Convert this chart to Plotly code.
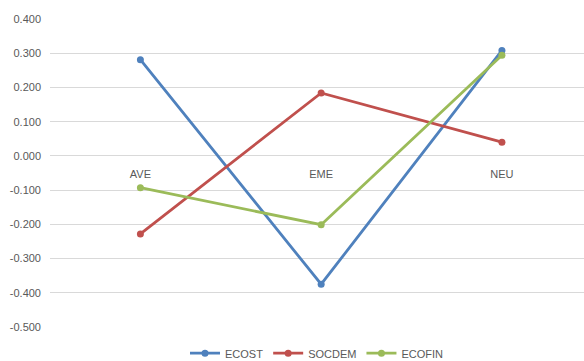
import plotly.graph_objects as go

categories = ["AVE", "EME", "NEU"]
ecost = [0.281, -0.375, 0.308]
socdem = [-0.228, 0.184, 0.040]
ecofin = [-0.093, -0.201, 0.294]
y_ticks = [0.4, 0.3, 0.2, 0.1, 0.0, -0.1, -0.2, -0.3, -0.4, -0.5]

series = [
    ("ECOST", ecost, "#4F81BD"),
    ("SOCDEM", socdem, "#C0504D"),
    ("ECOFIN", ecofin, "#9BBB59"),
]

fig = go.Figure()
for name, vals, color in series:
    fig.add_trace(go.Scatter(
        x=categories, y=vals, name=name, mode="lines+markers",
        line=dict(color=color, width=2.8),
        marker=dict(color=color, size=7),
    ))

font_family = "Liberation Sans, Arial, sans-serif"
y_lo, y_hi = -0.5, 0.4

fig.update_layout(
    width=584, height=361,
    margin=dict(l=50, r=0, t=19, b=34, autoexpand=False),
    paper_bgcolor="white", plot_bgcolor="white",
    font=dict(family=font_family, size=11, color="#595959"),
    showlegend=True,
    legend=dict(orientation="h", x=0.5, xanchor="center", y=-0.038, yanchor="top",
                font=dict(size=11, color="#595959"), itemwidth=30,
                tracegroupgap=0),
    xaxis=dict(
        type="category", range=[-0.5, 2.454],
        showgrid=False, zeroline=False, showline=False,
        anchor="free", position=(0 - y_lo) / (y_hi - y_lo),
        ticks="outside", ticklen=8, tickcolor="rgba(0,0,0,0)",
        tickfont=dict(size=11, color="#595959"),
    ),
    yaxis=dict(
        range=[y_lo, y_hi], tickvals=y_ticks,
        ticktext=[f"{v:.3f}" for v in y_ticks],
        showgrid=True, gridcolor="#D9D9D9", gridwidth=1,
        zeroline=False, showline=False,
        ticks="", ticklabelstandoff=8,
        tickfont=dict(size=11, color="#595959"),
    ),
)

fig.write_html("out.html")
